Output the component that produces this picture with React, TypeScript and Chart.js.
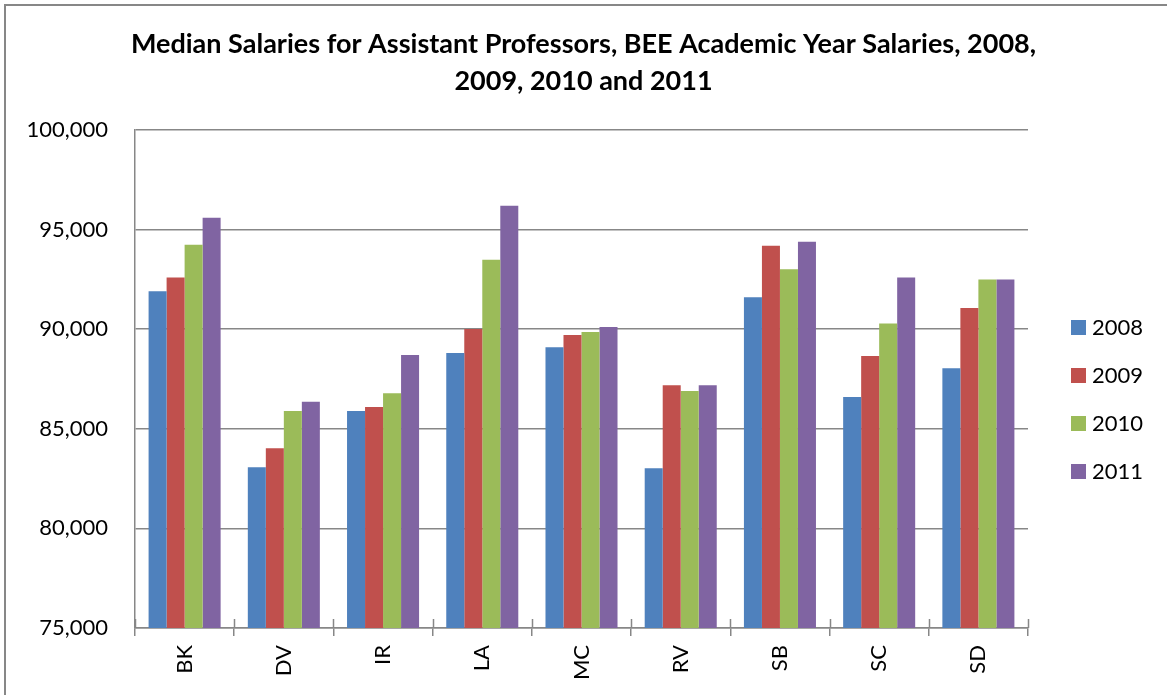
import { useEffect, useRef } from 'react';
import { Chart, registerables } from 'chart.js';

Chart.register(...registerables);

const CAMPUSES = ['BK', 'DV', 'IR', 'LA', 'MC', 'RV', 'SB', 'SC', 'SD'];
const YEARS = ['2008', '2009', '2010', '2011'];
const S2008 = [91900, 83070, 85890, 88800, 89090, 83020, 91600, 86600, 88040];
const S2009 = [92600, 84020, 86090, 90010, 89710, 87180, 94190, 88650, 91060];
const S2010 = [94240, 85890, 86780, 93490, 89860, 86900, 93010, 90290, 92500];
const S2011 = [95600, 86360, 88700, 96200, 90110, 87180, 94390, 92600, 92500];
const Y_TICKS = [75000, 80000, 85000, 90000, 95000, 100000];
const TITLE = [
  'Median Salaries for Assistant Professors, BEE Academic Year Salaries, 2008,',
  '2009, 2010 and 2011',
];

const COLORS = ['#4F81BD', '#C0504D', '#9BBB59', '#8064A2'];
const FONT = 'Lato, "Liberation Sans", sans-serif';
const GRID = '#878787';

const extrasPlugin = {
  id: 'extras',
  afterDraw(chart: any) {
    const { ctx, chartArea } = chart;
    const xs = chart.scales.x;
    ctx.save();
    // inner part of crossing tick marks on the category axis
    ctx.strokeStyle = GRID;
    ctx.lineWidth = 1.5;
    for (let i = 0; i <= CAMPUSES.length; i++) {
      const x = Math.round(xs.getPixelForValue(i - 0.5)) + 0.5;
      ctx.beginPath();
      ctx.moveTo(x, chartArea.bottom - 9);
      ctx.lineTo(x, chartArea.bottom);
      ctx.stroke();
    }
    // legend on the right
    ctx.font = `22px ${FONT}`;
    ctx.textBaseline = 'middle';
    ctx.textAlign = 'left';
    chart.data.datasets.forEach((ds: any, i: number) => {
      const cy = 327 + i * 48;
      const bx = chartArea.right + 43;
      ctx.fillStyle = ds.backgroundColor;
      ctx.fillRect(bx, cy - 7, 15, 15);
      ctx.fillStyle = '#000';
      ctx.fillText(ds.label, bx + 21, cy + 1);
    });
    ctx.restore();
  },
};

export default function App() {
  const ref = useRef<HTMLCanvasElement>(null);

  useEffect(() => {
    if (!ref.current) return;
    const series = [S2008, S2009, S2010, S2011];
    const chart = new Chart(ref.current, {
      type: 'bar',
      data: {
        labels: CAMPUSES,
        datasets: YEARS.map((y, i) => ({
          label: y,
          data: series[i],
          backgroundColor: COLORS[i],
          borderWidth: 0,
          categoryPercentage: 0.726,
          barPercentage: 1,
        })),
      },
      options: {
        animation: false,
        responsive: false,
        layout: { padding: 0 },
        plugins: {
          legend: { display: false },
          tooltip: { enabled: false },
          title: {
            display: true,
            text: TITLE,
            color: '#000',
            font: { family: FONT, size: 27, weight: 'bold', lineHeight: 1.4 },
            padding: { top: 25, bottom: 29.4 },
          },
        },
        scales: {
          x: {
            grid: {
              drawOnChartArea: false,
              drawTicks: true,
              tickLength: 8,
              color: GRID,
              lineWidth: 1.5,
              offset: true,
            },
            border: { color: GRID, width: 1.5 },
            ticks: {
              color: '#000',
              font: { family: FONT, size: 22 },
              minRotation: 90,
              maxRotation: 90,
              padding: 9,
            },
            afterFit: (s: any) => {
              s.height = 67;
            },
          },
          y: {
            min: Y_TICKS[0],
            max: Y_TICKS[Y_TICKS.length - 1],
            grid: { color: GRID, lineWidth: 1.5, drawTicks: false },
            border: { color: GRID, width: 1.5 },
            ticks: {
              stepSize: 5000,
              color: '#000',
              font: { family: FONT, size: 22 },
              padding: 27,
              callback: (v: any) => Number(v).toLocaleString('en-US'),
            },
            afterFit: (s: any) => {
              s.width = 135;
            },
          },
          yRight: {
            position: 'right',
            display: true,
            grid: { display: false },
            border: { display: false },
            ticks: { display: false },
            afterFit: (s: any) => {
              s.width = 139;
            },
          },
        },
      } as any,
      plugins: [extrasPlugin],
    });
    return () => chart.destroy();
  }, []);

  return (
    <div
      style={{
        position: 'fixed',
        left: 0,
        top: 0,
        width: 1167,
        height: 695,
        overflow: 'hidden',
        background: '#fff',
      }}
    >
      <div
        style={{
          position: 'absolute',
          left: 4,
          top: 4,
          width: 1300,
          height: 900,
          border: `2px solid ${GRID}`,
          boxSizing: 'border-box',
        }}
      />
      <canvas
        ref={ref}
        width={1167}
        height={695}
        style={{ position: 'absolute', left: 0, top: 0, display: 'block' }}
      />
    </div>
  );
}
